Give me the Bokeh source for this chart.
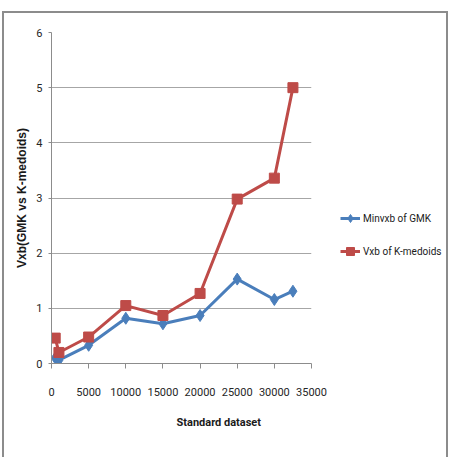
from bokeh.plotting import figure
from bokeh.models import (FixedTicker, Legend, LegendItem, Title, Range1d,
                          InlineStyleSheet)
from bokeh.embed import file_html
from bokeh.resources import INLINE

# ---- data ----
dataset_size = [500, 1000, 5000, 10000, 15000, 20000, 25000, 30000, 32500]
minvxb_gmk = [0.10, 0.06, 0.33, 0.82, 0.72, 0.87, 1.53, 1.16, 1.31]
vxb_kmedoids = [0.46, 0.20, 0.48, 1.05, 0.87, 1.27, 2.98, 3.36, 5.00]
x_ticks = [0, 5000, 10000, 15000, 20000, 25000, 30000, 35000]
y_ticks = [0, 1, 2, 3, 4, 5, 6]
grid_ticks = [1, 2, 3, 4, 5]

BLUE = "#4A7EBB"
RED = "#BE4B48"
TICK_FONT = "Roboto"

p = figure(frame_width=260, frame_height=331, output_backend="svg",
           toolbar_location=None,
           x_range=Range1d(0, 35000), y_range=Range1d(0, 6),
           min_border_left=51, min_border_right=142, min_border_top=32,
           min_border_bottom=94)
p.outline_line_color = None
p.background_fill_color = "white"
p.border_fill_color = "white"

# axes
p.xaxis.ticker = FixedTicker(ticks=x_ticks)
p.yaxis.ticker = FixedTicker(ticks=y_ticks)
p.xgrid.visible = False
p.ygrid.ticker = FixedTicker(ticks=grid_ticks)
p.ygrid.grid_line_color = "#A6A6A6"
p.ygrid.grid_line_width = 1

for ax in (p.xaxis, p.yaxis):
    ax.axis_line_color = "#8C8C8C"
    ax.major_tick_line_color = "#8C8C8C"
    ax.minor_tick_line_color = None
    ax.major_tick_in = 0
    ax.major_label_text_font = TICK_FONT
    ax.major_label_text_font_size = "11px"
    ax.major_label_text_color = "#262626"

p.xaxis.major_tick_out = 5
p.xaxis.major_label_standoff = 19
p.yaxis.major_tick_out = 3
p.yaxis.major_label_standoff = 6

p.yaxis.axis_label = "Vxb(GMK vs K-medoids)"
p.yaxis.axis_label_text_font = "Liberation Sans"
p.yaxis.axis_label_text_font_style = "bold"
p.yaxis.axis_label_text_font_size = "12px"
p.yaxis.axis_label_text_color = "#1a1a1a"
p.yaxis.axis_label_standoff = 4

p.add_layout(Title(text="Standard dataset", align="left", offset=125,
                   text_font=TICK_FONT, text_font_size="11px",
                   text_font_style="bold", text_color="#1a1a1a",
                   standoff=31), "below")

# series
l1 = p.line(dataset_size, minvxb_gmk, line_color=BLUE, line_width=3)
m1 = p.scatter(dataset_size, minvxb_gmk, marker="diamond", size=12,
               fill_color=BLUE, line_color=BLUE)
l2 = p.line(dataset_size, vxb_kmedoids, line_color=RED, line_width=3)
m2 = p.scatter(dataset_size, vxb_kmedoids, marker="square", size=10,
               fill_color=RED, line_color=RED)

legend = Legend(items=[LegendItem(label="Minvxb of GMK", renderers=[l1, m1]),
                       LegendItem(label="Vxb of K-medoids", renderers=[l2, m2])],
                location=(29, 102), orientation="vertical",
                background_fill_alpha=0, border_line_color=None,
                label_text_font=TICK_FONT, label_text_font_size="10px",
                label_text_color="#1a1a1a", glyph_width=20, glyph_height=20,
                label_standoff=3, spacing=13, padding=0, margin=0)
p.add_layout(legend, "right")

# outer chart border (drawn by CSS around the canvas)
p.stylesheets = [InlineStyleSheet(css="""
:host { position: relative; }
:host::after {
  content: ""; position: absolute; left: 2px; top: 11px;
  width: 446px; height: 470px; border: 2px solid #8C8C8C;
  pointer-events: none; box-sizing: border-box;
}
""")]

open("out.html", "w").write(file_html(p, INLINE))
